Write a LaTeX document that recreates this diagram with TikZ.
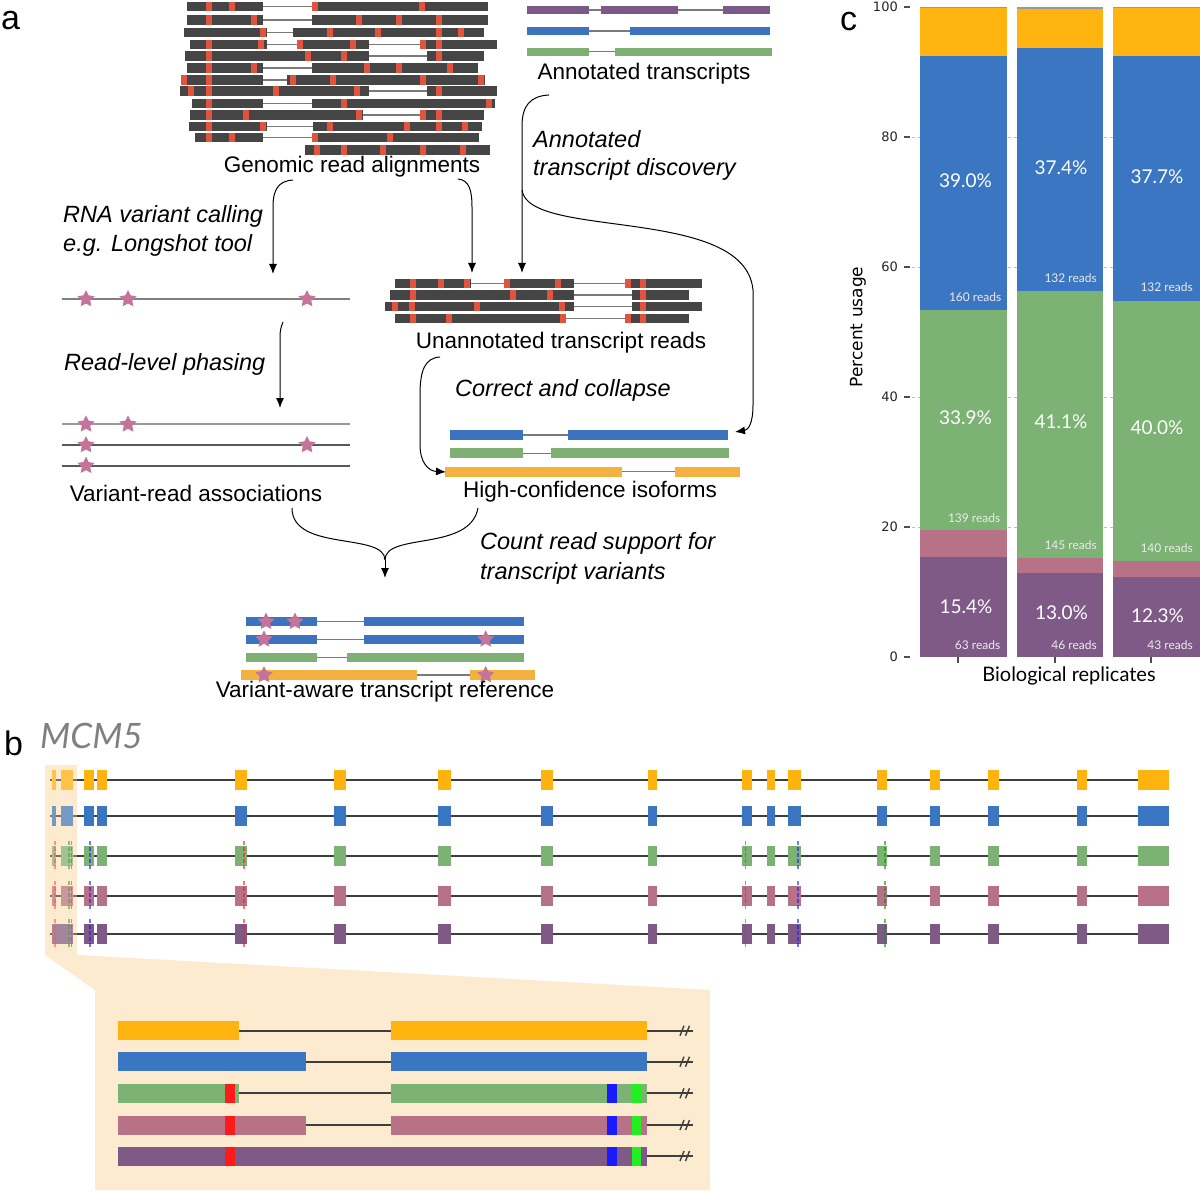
\documentclass[tikz,border=0pt]{standalone}
\usepackage{fontspec}
\setmainfont{Liberation Sans}
\newfontfamily\latof{Lato}
\newfontfamily\dejaf{DejaVu Sans}
\usetikzlibrary{arrows.meta,shapes.geometric}

\definecolor{readc}{HTML}{454545}
\definecolor{redm}{HTML}{E2533D}
\definecolor{intr}{HTML}{7A7A7A}
\definecolor{aBlue}{HTML}{3C72BE}
\definecolor{aGreen}{HTML}{7DB072}
\definecolor{aOrange}{HTML}{F3B240}
\definecolor{aPurple}{HTML}{7B5A88}
\definecolor{starc}{HTML}{C4739A}
\definecolor{bOrange}{HTML}{FFB30F}
\definecolor{bBlue}{HTML}{3A76C2}
\definecolor{bGreen}{HTML}{7CB274}
\definecolor{bPink}{HTML}{B87287}
\definecolor{bPurple}{HTML}{7F5A87}
\definecolor{bline}{HTML}{3E3E3E}
\definecolor{hl}{HTML}{FDEBCF}
\definecolor{mRed}{HTML}{FF1A1A}
\definecolor{mBlue}{HTML}{1A1AFF}
\definecolor{mGreen}{HTML}{22EE22}

\newcommand\readrow[5]{%
  \draw[intron] (#2,#1) -- (#3,#1);
  \foreach \xa/\xb in {#4} {\fill[readc] (\xa,#1-4.6) rectangle (\xb,#1+4.6);}
  \foreach \xr in {#5} {\fill[redm] (\xr-3,#1-4.6) rectangle (\xr+3,#1+4.6);}
}
\newcommand\txrow[6]{%
  \draw[intron] (#4,#1) -- (#5,#1);
  \foreach \xa/\xb in {#6} {\fill[#3] (\xa,#1-#2/2) rectangle (\xb,#1+#2/2);}
}
\newcommand\brow[3]{%
  \draw[line width=2.2pt, draw=bline] (50,#1) -- (1140,#1);
  \foreach \xa/\xb in #3 {\fill[#2] (\xa,#1-10) rectangle (\xb,#1+10);}
}
\newcommand\bmarks[1]{%
  \foreach \xm/\cm in {55/mRed, 69/green!50!black, 71.5/mBlue, 90/mBlue, 244/mRed, 745.7/green!60!black, 798/mBlue, 885/green!60!black}
    {\draw[\cm, opacity=0.6, line width=1.3pt, dash pattern=on 4pt off 2pt] (\xm,#1-15) -- (\xm,#1+15);}
}
\newcommand\zrow[3]{%
  \draw[line width=1.8pt, draw=bline] (117.7,#1) -- (693,#1);
  \draw[line width=1.4pt, draw=bline] (680,#1+5) -- (684,#1-5) (685.5,#1+5) -- (689.5,#1-5);
  \foreach \xa/\xb in {#3} {\fill[#2] (\xa,#1-9.5) rectangle (\xb,#1+9.5);}
}
\newcommand\zmarks[1]{%
  \fill[mRed] (225.2,#1-9.5) rectangle (235,#1+9.5);
  \fill[mBlue] (607,#1-9.5) rectangle (617,#1+9.5);
  \fill[mGreen] (631.5,#1-9.5) rectangle (641.4,#1+9.5);
}

\begin{document}
\begin{tikzpicture}[x=1pt,y=-1pt,
  lbl/.style={font=\fontsize{22.5}{26}\selectfont, inner sep=0pt, anchor=base},
  ital/.style={font=\fontsize{23.5}{28}\selectfont\itshape, inner sep=0pt, anchor=base west},
  panel/.style={font=\fontsize{34}{34}\selectfont, inner sep=0pt, anchor=base west},
  flow/.style={-{Latex[length=10pt,width=8pt]}, line width=1pt},
  intron/.style={draw=intr, line width=1.5pt},
  vstar/.style={star, star points=5, star point ratio=2.0, fill=starc, minimum size=18pt, inner sep=0pt},
  pct/.style={font=\latof\fontsize{19}{22}\selectfont, text=white, inner sep=0pt},
  rds/.style={font=\latof\fontsize{12}{14}\selectfont, text=white!92!black, inner sep=0pt, anchor=east},
  tick/.style={font=\dejaf\fontsize{13}{15}\selectfont, text=black!85, inner sep=0pt, anchor=east},
]
\path[use as bounding box, fill=white] (0,0) rectangle (1200,1193);

%% ---------------- panel a ----------------
\node[panel] (la) at (1,30) {a};

% genomic reads
\readrow{6.7}{186.7}{487.7}{186.7/262.7,311.7/487.7}{209,232,315,422}
\readrow{20}{186.7}{487.7}{186.7/262.7,311.7/487.7}{209,254,359,399,439}
\readrow{32.3}{184}{484}{184/266.7,292.7/484}{262.7,330,378,439,460.7}
\readrow{44.3}{190}{496.7}{190/266.7,296.7/369.3,420/496.7}{209,261,300,353,423,439}
\readrow{56}{185}{484}{185/369.3,426.7/484}{209,308,344,439}
\readrow{68}{186.7}{478.3}{186.7/262.7,311.7/478.3}{209,254,367,399,450}
\readrow{80}{181.7}{485}{181.7/262.7,286.7/485}{184,209,293,332.7,423,480.7}
\readrow{91}{180}{496.7}{180/369.3,426.7/496.7}{190.7,209,276,356.7,439}
\readrow{103.3}{191.7}{495}{191.7/262.7,311.7/495}{209,344,489}
\readrow{115}{190}{484}{190/362.7,420/484}{209,246,359,423,439}
\readrow{126.7}{189}{481.7}{189/266.7,312.7/481.7}{209,262.7,330,407,439,465}
\readrow{137.7}{195}{479.3}{195/262.7,311.7/479.3}{209,232,315,390}
\readrow{150}{305}{490}{305/490}{316.7,344,383,423,463}
\node[lbl] (tGen) at (352,173) {Genomic read alignments};

% annotated transcripts
\txrow{10}{8}{aPurple}{526.7}{770}{526.7/589.3,601/678.3,723.3/770}
\txrow{31}{8}{aBlue}{526.7}{770}{526.7/589.3,630/770}
\txrow{51.7}{8}{aGreen}{526.7}{771.7}{526.7/589.3,615/771.7}
\node[lbl] (tAnn) at (644,80) {Annotated transcripts};
\node[ital] (tDisc1) at (533,148) {Annotated};
\node[ital] (tDisc2) at (533,176) {transcript discovery};

% variant calling
\node[ital] (tRNA1) at (63,223) {RNA variant calling};
\node[ital] (tRNA2) at (63,252) {e.g. Longshot tool};
\draw[draw=black!50, line width=1.8pt] (62,299) -- (350,299);
\foreach \xs [count=\i] in {86,128,307} {\node[vstar] (vs\i) at (\xs,299) {};}

\node[ital] (tPhase) at (64,370) {Read-level phasing};
\draw[draw=black!40, line width=1.8pt] (62,424.3) -- (350,424.3);
\draw[draw=black!65, line width=1.8pt] (62,445) -- (350,445);
\draw[draw=black!65, line width=1.8pt] (62,465.7) -- (350,465.7);
\node[vstar] (p1) at (86,424.3) {};
\node[vstar] (p2) at (128,424.3) {};
\node[vstar] (p3) at (86,445) {};
\node[vstar] (p4) at (307,445) {};
\node[vstar] (p5) at (86,465.7) {};
\node[lbl] (tVR) at (196,501) {Variant-read associations};

% unannotated reads
\readrow{283.3}{395}{701.7}{395/470.7,505/574,625/701.7}{413.3,440.7,466.7,507.3,558.3,628.3,643.3}
\readrow{295}{390}{689.3}{390/574,631.7/689.3}{413.3,513.3,550,643.3}
\readrow{306.5}{385}{701.7}{385/574,631.7/701.7}{395,411.7,476.7,561.7,643.3}
\readrow{318.3}{395}{689.3}{395/565,625/689.3}{413.3,449.3,563.3,628.3,643.3}
\node[lbl] (tUn) at (561,348) {Unannotated transcript reads};
\node[ital] (tCorr) at (455,396) {Correct and collapse};

% high-confidence isoforms
\txrow{435}{10}{aBlue}{450}{728.3}{450/522.7,568.3/728.3}
\txrow{453.3}{10}{aGreen}{450}{729.3}{450/522.7,550.7/729.3}
\txrow{471.7}{10}{aOrange}{445}{740}{445/621.7,675/740}
\node[lbl] (tHigh) at (590,497) {High-confidence isoforms};

\node[ital] (tCnt1) at (480,549) {Count read support for};
\node[ital] (tCnt2) at (480,579) {transcript variants};

% variant-aware reference
\txrow{621.7}{9.5}{aBlue}{246}{524}{246/317.3,364/524}
\txrow{639.3}{9.5}{aBlue}{246}{524}{246/317.3,364/524}
\txrow{657.3}{9.5}{aGreen}{246}{524}{246/317.3,346.7/524}
\txrow{675}{9.5}{aOrange}{240.7}{535}{240.7/416.7,470/535}
\node[vstar] (r1) at (266,621.7) {};
\node[vstar] (r2) at (295,621.7) {};
\node[vstar] (r3) at (264,639.3) {};
\node[vstar] (r4) at (485.7,639.3) {};
\node[vstar] (r5) at (264,675) {};
\node[vstar] (r6) at (485.7,675) {};
\node[lbl] (tVA) at (385,697) {Variant-aware transcript reference};

% arrows
\coordinate (gL) at (293,180);
\coordinate (vTop) at (273,274);
\draw[flow] (gL) .. controls (278,181) and (273,190) .. (273,207) -- (vTop);
\coordinate (gR) at (458,179);
\coordinate (uTopL) at (472,273);
\draw[flow] (gR) .. controls (469,180) and (472,190) .. (472,207) -- (uTopL);
\coordinate (aS) at (549,95);
\coordinate (split) at (522,190);
\coordinate (uTopR) at (522,273);
\draw[flow] (aS) .. controls (530,96) and (522,106) .. (522,126) -- (split) -- (uTopR);
\coordinate (hcR) at (735,432);
\draw[flow] (split) .. controls (528,240) and (745,205) .. (753,290) -- (753,405) .. controls (753,424) and (748,430) .. (hcR);
\coordinate (phS) at (283,322);
\coordinate (phE) at (280,408);
\draw[flow] (phS) .. controls (280,330) .. (280,346) -- (phE);
\coordinate (ccS) at (440,357);
\coordinate (ccE) at (446,472);
\draw[flow] (ccS) .. controls (425,358) and (420,370) .. (420,395) -- (420,445) .. controls (420,462) and (428,471) .. (ccE);
\coordinate (vrS) at (292,508);
\coordinate (hcS) at (478,508);
\coordinate (mg) at (385,560);
\coordinate (vaE) at (385,578);
\draw[line width=1pt] (vrS) .. controls (292,552) and (385,532) .. (mg);
\draw[line width=1pt] (hcS) .. controls (470,552) and (385,532) .. (mg);
\draw[flow] (mg) -- (vaE);

%% ---------------- panel b ----------------
\node[panel] (lb) at (4,755) {b};
\node[font=\latof\itshape\fontsize{35}{35}\selectfont, text=black!50, inner sep=0pt, anchor=base west] (gene) at (40,748) {MCM5};

\fill[hl] (45,955) -- (77,955) -- (710,990) -- (710,1190) -- (95,1190) -- (95,990) -- cycle;

\def\exlist{52/56,60.7/72.7,84/94,96.7/106.7,235/247.3,334/346,438.3/450.7,541/553.3,647.7/656.7,741.7/752.3,767.3/774.7,787.7/801,877.3/886.7,930/940,988.3/999.3,1076.7/1087.3,1137.7/1169}
\def\exlistP{52/72.7,84/94,96.7/106.7,235/247.3,334/346,438.3/450.7,541/553.3,647.7/656.7,741.7/752.3,767.3/774.7,787.7/801,877.3/886.7,930/940,988.3/999.3,1076.7/1087.3,1137.7/1169}
\fill[hl] (45,765) rectangle (77,955);
\brow{780}{bOrange}{\exlist}
\brow{816}{bBlue}{\exlist}
\brow{856}{bGreen}{\exlist}
\brow{896}{bPink}{\exlist}
\brow{934}{bPurple}{\exlistP}
\bmarks{856}
\bmarks{896}
\bmarks{934}
\fill[hl, fill opacity=0.3] (45,765) rectangle (77,955);

% zoomed detail
\zrow{1030.7}{bOrange}{117.7/239,391/647.3}
\zrow{1061.7}{bBlue}{117.7/306.2,391/647.3}
\zrow{1093.3}{bGreen}{117.7/239,391/647.3}
\zmarks{1093.3}
\zrow{1125}{bPink}{117.7/306.2,391/647.3}
\zmarks{1125}
\zrow{1156}{bPurple}{117.7/647.3}
\zmarks{1156}

%% ---------------- panel c ----------------
\node[panel] (lc) at (840,31) {c};
\foreach \yy in {137,267,397,527} {\draw[black!25, dashed, line width=0.8pt] (912,\yy) -- (1200,\yy);}
\foreach \yy/\tt in {7/100,137/80,267/60,397/40,527/20,657/0} {
  \draw[black!70, line width=1.2pt] (904,\yy) -- (910,\yy);
  \node[tick] at (898,\yy) {\tt};
}
\node[font=\dejaf\fontsize{17}{19}\selectfont, rotate=90, inner sep=0pt] (ylab) at (858,327) {Percent usage};

% bar 1
\fill[bPurple] (920,657) rectangle (1006.7,556.9);
\fill[bPink] (920,556.9) rectangle (1006.7,530.3);
\fill[bGreen] (920,530.3) rectangle (1006.7,309.9);
\fill[bBlue] (920,309.9) rectangle (1006.7,56.4);
\fill[bOrange] (920,56.4) rectangle (1006.7,8.5);
\fill[black!40] (920,8.5) rectangle (1006.7,7);
% bar 2
\fill[bPurple] (1016.7,657) rectangle (1103,572.5);
\fill[bPink] (1016.7,572.5) rectangle (1103,558.2);
\fill[bGreen] (1016.7,558.2) rectangle (1103,291);
\fill[bBlue] (1016.7,291) rectangle (1103,48);
\fill[bOrange] (1016.7,48) rectangle (1103,9.5);
\fill[black!40] (1016.7,9.5) rectangle (1103,7);
% bar 3
\fill[bPurple] (1113.3,657) rectangle (1200,577);
\fill[bPink] (1113.3,577) rectangle (1200,560.8);
\fill[bGreen] (1113.3,560.8) rectangle (1200,300.8);
\fill[bBlue] (1113.3,300.8) rectangle (1200,55.8);
\fill[bOrange] (1113.3,55.8) rectangle (1200,8);
\fill[black!40] (1113.3,8) rectangle (1200,7);

\node[pct] (c11) at (965.5,181) {39.0\%};
\node[pct] (c12) at (965.5,418) {33.9\%};
\node[pct] (c13) at (966,606.5) {15.4\%};
\node[pct] (c21) at (1061,168) {37.4\%};
\node[pct] (c22) at (1061,422) {41.1\%};
\node[pct] (c23) at (1061.5,613) {13.0\%};
\node[pct] (c31) at (1157,176.5) {37.7\%};
\node[pct] (c32) at (1157,428) {40.0\%};
\node[pct] (c33) at (1157.5,616) {12.3\%};
\node[rds] (r11) at (1001.5,297) {160 reads};
\node[rds] (r12) at (1000.5,518) {139 reads};
\node[rds] (r13) at (1000.5,645) {63 reads};
\node[rds] (r21) at (1097,278.5) {132 reads};
\node[rds] (r22) at (1097,545.5) {145 reads};
\node[rds] (r23) at (1097,645) {46 reads};
\node[rds] (r31) at (1193,287.5) {132 reads};
\node[rds] (r32) at (1193,548) {140 reads};
\node[rds] (r33) at (1193,645) {43 reads};

\foreach \xx in {958,1055,1151} {\draw[black!70, line width=1.2pt] (\xx,657) -- (\xx,663);}
\node[font=\latof\fontsize{20}{22}\selectfont, inner sep=0pt, anchor=base] (xlab) at (1069,681.5) {Biological replicates};
\end{tikzpicture}
\end{document}
